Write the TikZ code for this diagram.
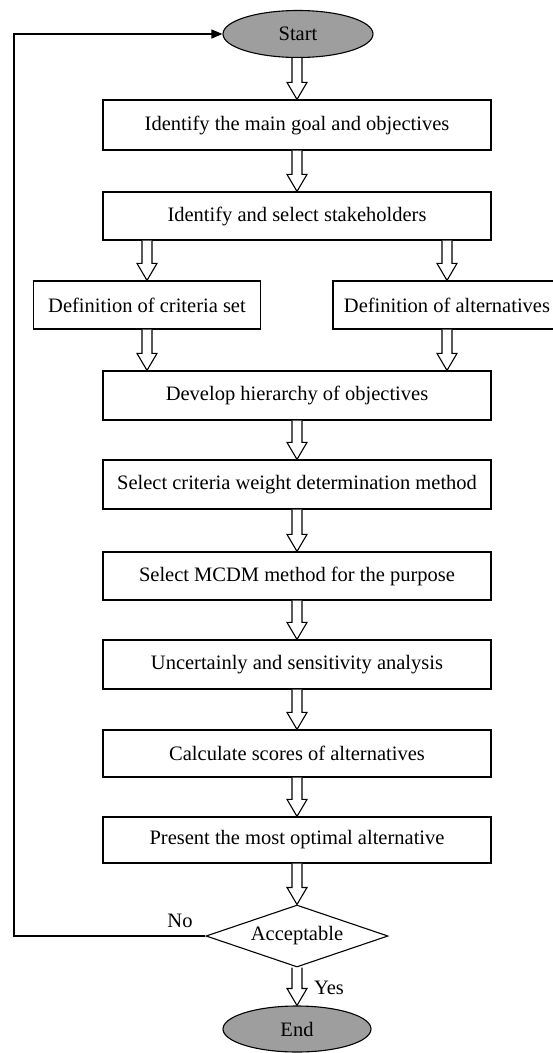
\documentclass[tikz,border=0pt]{standalone}
\usepackage{fontspec}
\setmainfont{Liberation Serif}
\usetikzlibrary{shapes.geometric,calc,arrows.meta}
\definecolor{termfill}{RGB}{158,158,158}
\newcommand{\harr}[2]{%
  \draw[harrowst] let \p1=(#1), \p2=(#2) in
    (\x1-5pt,\y1) -- (\x1-5pt,\y2+17pt) -- (\x1-10pt,\y2+17pt) -- (\x1,\y2)
    -- (\x1+10pt,\y2+17pt) -- (\x1+5pt,\y2+17pt) -- (\x1+5pt,\y1);}
\begin{document}
\begin{tikzpicture}[x=1pt,y=-1pt,
  txt/.style={font=\fontsize{20.5}{24}\selectfont},
  box/.style={txt,draw,line width=1.2pt,inner sep=0pt,minimum height=49pt},
  mainbox/.style={box,minimum width=388pt},
  sidebox/.style={box,minimum width=227pt},
  term/.style={txt,draw,ellipse,fill=termfill,line width=1.1pt,inner sep=0pt},
  decide/.style={txt,draw,diamond,aspect=2.9,line width=1.1pt,inner sep=0pt,minimum width=182pt,minimum height=62pt},
  harrowst/.style={draw,fill=white,line width=1.1pt,line join=miter},
  loopline/.style={draw,line width=1.1pt,-{Triangle[length=11pt,width=9pt]}},
  lbl/.style={txt,inner sep=0pt}]
\useasboundingbox (0,0) rectangle (552,1053);

\node[term,minimum width=150pt,minimum height=47pt] (start) at (298,34) {Start};
\node[mainbox,minimum height=50pt] (b1) at (297,125) {Identify the main goal and objectives};
\node[mainbox,minimum height=48pt] (b2) at (297,216) {Identify and select stakeholders};
\node[sidebox,minimum height=48pt] (dL) at (147,305) {Definition of criteria set};
\node[sidebox,minimum height=48pt,minimum width=228pt] (dR) at (447,305) {Definition of alternatives};
\node[mainbox] (b3) at (297,395.5) {Develop hierarchy of objectives};
\node[mainbox] (b4) at (297,484.5) {Select criteria weight determination method};
\node[mainbox,minimum height=48pt] (b5) at (297,576) {Select MCDM method for the purpose};
\node[mainbox] (b6) at (297,664.5) {Uncertainly and sensitivity analysis};
\node[mainbox,minimum height=47pt] (b7) at (297,753.5) {Calculate scores of alternatives};
\node[mainbox,minimum height=46pt] (b8) at (297,840) {Present the most optimal alternative};
\node[decide] (acc) at (297,936) {Acceptable};
\node[term,minimum width=148pt,minimum height=46pt] (end) at (297,1029) {End};

\coordinate (lc) at (14,34);
\draw[loopline] (acc.west) -| (lc) -- (start.west);
\node[lbl] (no) at (180,921) {No};
\node[lbl] (yes) at (329,988) {Yes};

\harr{start.south -| b1.north}{b1.north}
\harr{b1.south}{b2.north}
\harr{b2.south -| dL.north}{dL.north}
\harr{b2.south -| dR.north}{dR.north}
\harr{dL.south}{b3.north}
\harr{dR.south}{b3.north}
\harr{b3.south}{b4.north}
\harr{b4.south}{b5.north}
\harr{b5.south}{b6.north}
\harr{b6.south}{b7.north}
\harr{b7.south}{b8.north}
\harr{b8.south}{acc.north}
\harr{acc.south}{end.north}
\end{tikzpicture}
\end{document}
